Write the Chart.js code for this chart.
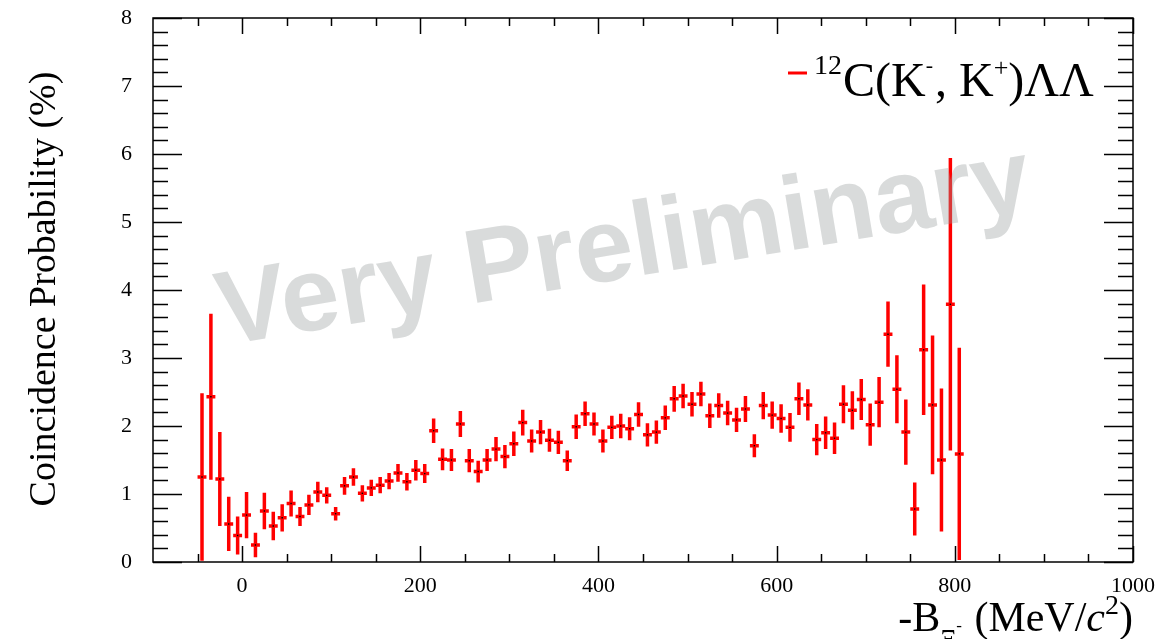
<!DOCTYPE html>
<html lang="en">
<head>
<meta charset="UTF-8">
<title>Coincidence Probability</title>
<script src="https://cdn.jsdelivr.net/npm/chart.js@4.4.0/dist/chart.umd.min.js"></script>
<style>
  html, body { margin: 0; padding: 0; background: #fff; }
  #wrap { width: 1168px; height: 639px; }
</style>
</head>
<body>
<div id="wrap"><canvas id="coinChart" width="1168" height="639"></canvas></div>
<script>
// bin centres (MeV), 10 MeV bins
const binCenters = [
  -45, -35, -25, -15, -5, 5, 15, 25, 35, 45,
  55, 65, 75, 85, 95, 105, 115, 125, 135, 145,
  155, 165, 175, 185, 195, 205, 215, 225, 235, 245,
  255, 265, 275, 285, 295, 305, 315, 325, 335, 345,
  355, 365, 375, 385, 395, 405, 415, 425, 435, 445,
  455, 465, 475, 485, 495, 505, 515, 525, 535, 545,
  555, 565, 575, 585, 595, 605, 615, 625, 635, 645,
  655, 665, 675, 685, 695, 705, 715, 725, 735, 745,
  755, 765, 775, 785, 795, 805
];
// coincidence probability (%)
const probValues = [
  1.25, 2.43, 1.22, 0.56, 0.39, 0.69, 0.25, 0.75, 0.53, 0.65,
  0.86, 0.67, 0.84, 1.03, 0.98, 0.71, 1.12, 1.25, 1.01, 1.09,
  1.13, 1.19, 1.31, 1.18, 1.35, 1.30, 1.93, 1.51, 1.50, 2.03,
  1.49, 1.33, 1.50, 1.66, 1.55, 1.74, 2.05, 1.78, 1.91, 1.79,
  1.76, 1.49, 1.99, 2.18, 2.03, 1.78, 1.98, 2.00, 1.96, 2.17,
  1.87, 1.91, 2.12, 2.40, 2.44, 2.32, 2.47, 2.15, 2.30, 2.19,
  2.09, 2.25, 1.71, 2.30, 2.16, 2.11, 1.98, 2.40, 2.31, 1.80,
  1.90, 1.82, 2.32, 2.23, 2.39, 2.02, 2.35, 3.35, 2.54, 1.91,
  0.78, 3.12, 2.31, 1.50, 3.79, 1.59
];
// statistical errors (%)
const probErrors = [
  1.23, 1.22, 0.69, 0.40, 0.28, 0.34, 0.18, 0.27, 0.21, 0.20,
  0.19, 0.14, 0.15, 0.15, 0.12, 0.10, 0.13, 0.13, 0.12, 0.12,
  0.12, 0.12, 0.13, 0.13, 0.15, 0.14, 0.18, 0.16, 0.16, 0.19,
  0.17, 0.16, 0.16, 0.18, 0.17, 0.18, 0.19, 0.17, 0.18, 0.17,
  0.17, 0.15, 0.18, 0.18, 0.17, 0.17, 0.17, 0.18, 0.17, 0.18,
  0.17, 0.17, 0.18, 0.19, 0.18, 0.18, 0.18, 0.18, 0.18, 0.18,
  0.18, 0.19, 0.17, 0.20, 0.20, 0.21, 0.21, 0.24, 0.23, 0.23,
  0.24, 0.23, 0.28, 0.28, 0.30, 0.31, 0.37, 0.48, 0.50, 0.48,
  0.39, 0.96, 1.02, 1.05, 2.15, 1.56
];
const binHalfWidth = 5;
const xTickValues = [0, 200, 400, 600, 800, 1000];
const yTickValues = [0, 1, 2, 3, 4, 5, 6, 7, 8];

const SERIF = '"Liberation Serif", "Times New Roman", serif';
const RED = '#ff0000';

// red error crosses under the markers
const errorBars = {
  id: 'errorBars',
  beforeDatasetsDraw(chart) {
    const { ctx, chartArea: a, scales: { x, y } } = chart;
    ctx.save();
    ctx.beginPath();
    ctx.rect(a.left, a.top, a.right - a.left, a.bottom - a.top);
    ctx.clip();
    ctx.strokeStyle = RED;
    ctx.lineWidth = 3.5;
    ctx.lineCap = 'butt';
    binCenters.forEach((c, i) => {
      const v = probValues[i], e = probErrors[i];
      const px = x.getPixelForValue(c);
      const py = y.getPixelForValue(v);
      ctx.beginPath();
      ctx.moveTo(px, y.getPixelForValue(v + e));
      ctx.lineTo(px, y.getPixelForValue(Math.max(v - e, -0.1)));
      ctx.moveTo(x.getPixelForValue(c - binHalfWidth), py);
      ctx.lineTo(x.getPixelForValue(c + binHalfWidth), py);
      ctx.stroke();
    });
    ctx.restore();
  }
};

// grey stamp across the plot
const stamp = {
  id: 'stamp',
  afterDatasetsDraw(chart) {
    const { ctx } = chart;
    ctx.save();
    ctx.translate(624, 249);
    ctx.rotate(-9.5 * Math.PI / 180);
    ctx.font = 'bold 105px "Liberation Sans", Arial, sans-serif';
    ctx.fillStyle = 'rgba(150, 156, 154, 0.36)';
    ctx.textAlign = 'center';
    ctx.textBaseline = 'middle';
    ctx.fillText('Very Preliminary', 0, 0);
    ctx.restore();
  }
};

// ROOT-like frame with inward ticks on all four sides
const frame = {
  id: 'frame',
  afterDraw(chart) {
    const { ctx, chartArea: a, scales: { x, y } } = chart;
    ctx.save();
    ctx.strokeStyle = '#000';
    ctx.lineWidth = 1.5;
    ctx.strokeRect(a.left, a.top, a.right - a.left, a.bottom - a.top);
    ctx.beginPath();
    for (let v = 0; v <= 8.001; v += 0.2) {
      const major = Math.abs(v - Math.round(v)) < 1e-6;
      const len = major ? 29 : 15;
      const py = Math.round(y.getPixelForValue(v)) + 0.5;
      ctx.moveTo(a.left, py); ctx.lineTo(a.left + len, py);
      ctx.moveTo(a.right, py); ctx.lineTo(a.right - len, py);
    }
    for (let v = -50; v <= 1000; v += 50) {
      const major = v % 200 === 0;
      const len = major ? 16 : 8;
      const px = Math.round(x.getPixelForValue(v)) + 0.5;
      ctx.moveTo(px, a.bottom); ctx.lineTo(px, a.bottom - len);
      ctx.moveTo(px, a.top); ctx.lineTo(px, a.top + len);
    }
    ctx.stroke();
    ctx.restore();
  }
};

// draws a run of text pieces left to right, returns end x
function drawRun(ctx, pieces, x0, measureOnly) {
  let xx = x0;
  pieces.forEach(p => {
    ctx.font = p.font;
    if (!measureOnly) {
      ctx.fillStyle = p.color || '#000';
      ctx.fillText(p.t, xx, p.y);
    }
    xx += ctx.measureText(p.t).width + (p.gap || 0);
  });
  return xx;
}

// axis titles and legend
const labels = {
  id: 'labels',
  afterDraw(chart) {
    const { ctx, chartArea: a } = chart;
    ctx.save();
    ctx.textBaseline = 'alphabetic';
    ctx.textAlign = 'left';

    // y title
    ctx.save();
    ctx.translate(45, 289);
    ctx.rotate(-Math.PI / 2);
    ctx.font = '38px ' + SERIF;
    ctx.textAlign = 'center';
    ctx.textBaseline = 'middle';
    ctx.fillStyle = '#000';
    ctx.fillText('Coincidence Probability (%)', 0, 0);
    ctx.restore();

    // x title
    const big = '42px ' + SERIF;
    const xt = [
      { t: '-B', font: big, y: 631 },
      { t: '\u039E', font: '25px ' + SERIF, y: 647 },
      { t: '-', font: '17px ' + SERIF, y: 631, gap: 2 },
      { t: ' (MeV/', font: big, y: 631 },
      { t: 'c', font: 'italic ' + big, y: 631 },
      { t: '2', font: '28px ' + SERIF, y: 614 },
      { t: ')', font: big, y: 631 }
    ];
    const w = drawRun(ctx, xt, 0, true);
    drawRun(ctx, xt, a.right - w, false);

    // legend entry
    ctx.strokeStyle = RED;
    ctx.lineWidth = 3;
    ctx.beginPath();
    ctx.moveTo(788, 73);
    ctx.lineTo(807, 73);
    ctx.stroke();
    const lg = '48px ' + SERIF;
    drawRun(ctx, [
      { t: '12', font: '28px ' + SERIF, y: 74, gap: 1 },
      { t: 'C(K', font: lg, y: 96 },
      { t: '-', font: '22px ' + SERIF, y: 72, gap: 2 },
      { t: ', K', font: lg, y: 96 },
      { t: '+', font: '26px ' + SERIF, y: 76 },
      { t: ')\u039B\u039B', font: lg, y: 96 }
    ], 814, false);
    ctx.restore();
  }
};

new Chart(document.getElementById('coinChart'), {
  type: 'scatter',
  data: {
    datasets: [{
      label: 'coincidence',
      data: binCenters.map((c, i) => ({ x: c, y: probValues[i] })),
      pointStyle: 'rect',
      pointRadius: 1,
      pointBackgroundColor: '#000',
      pointBorderWidth: 0,
      showLine: false
    }]
  },
  options: {
    responsive: false,
    devicePixelRatio: 1,
    animation: false,
    layout: { padding: { left: 0, right: 35, top: 18, bottom: 0 } },
    plugins: { legend: { display: false }, tooltip: { enabled: false } },
    scales: {
      x: {
        type: 'linear',
        min: -100,
        max: 1000,
        grid: { display: false, drawTicks: false },
        border: { display: false },
        afterBuildTicks(s) { s.ticks = xTickValues.map(v => ({ value: v })); },
        afterFit(s) { s.height = 77; s.paddingLeft = 0; s.paddingRight = 0; },
        ticks: {
          padding: 11,
          maxRotation: 0,
          color: '#000',
          font: { family: SERIF, size: 22 },
          callback: v => String(v)
        }
      },
      y: {
        type: 'linear',
        min: 0,
        max: 8,
        grid: { display: false, drawTicks: false },
        border: { display: false },
        afterBuildTicks(s) { s.ticks = yTickValues.map(v => ({ value: v })); },
        afterFit(s) { s.width = 153; s.paddingTop = 0; s.paddingBottom = 0; },
        ticks: {
          padding: 21,
          color: '#000',
          font: { family: SERIF, size: 22 },
          callback: v => String(v)
        }
      }
    }
  },
  plugins: [errorBars, stamp, frame, labels]
});
</script>
</body>
</html>
